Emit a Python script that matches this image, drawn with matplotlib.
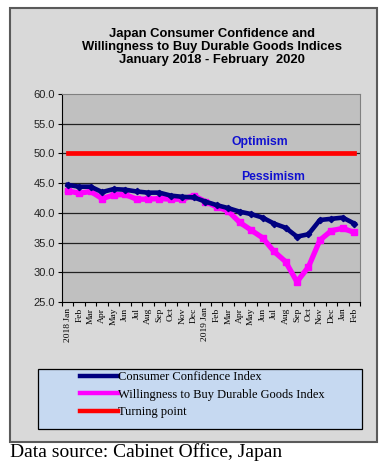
import matplotlib.pyplot as plt
from matplotlib.patches import Rectangle

# Monthly index values, Jan 2018 - Feb 2020
months = ["2018 Jan", "Feb", "Mar", "Apr", "May", "Jun", "Jul", "Aug", "Sep", "Oct", "Nov", "Dec",
          "2019 Jan", "Feb", "Mar", "Apr", "May", "Jun", "Jul", "Aug", "Sep", "Oct", "Nov", "Dec",
          "Jan", "Feb"]
consumer_confidence = [44.7, 44.4, 44.4, 43.5, 44.0, 43.9, 43.6, 43.4, 43.4, 42.9, 42.7, 42.6,
                       41.9, 41.3, 40.8, 40.2, 39.8, 39.2, 38.2, 37.5, 36.0, 36.4, 38.8, 39.0,
                       39.2, 38.2]
durable_goods = [43.7, 43.3, 43.6, 42.4, 43.0, 43.1, 42.3, 42.3, 42.4, 42.3, 42.3, 42.9,
                 41.9, 41.0, 40.3, 38.4, 37.1, 35.8, 33.5, 31.8, 28.4, 30.9, 35.4, 37.0,
                 37.4, 36.7]
turning_point = [50.0] * len(months)
y_ticks = [25, 30, 35, 40, 45, 50, 55, 60]

W, H = 389, 470
fig = plt.figure(figsize=(W / 100, H / 100), dpi=100)
fig.patch.set_facecolor("white")

# gray outer panel
fig.patches.append(Rectangle((10 / W, 1 - 442 / H), 367 / W, 434 / H, transform=fig.transFigure,
                             facecolor="#d9d9d9", edgecolor="#5a5a5a", lw=1.5, zorder=-2))

fig.text(212 / W, 1 - 47 / H,
         "Japan Consumer Confidence and\nWillingness to Buy Durable Goods Indices\nJanuary 2018 - February  2020",
         ha="center", va="center", fontsize=9.4, fontweight="bold", family="Liberation Sans",
         linespacing=1.12)

ax = fig.add_axes([62 / W, 1 - 302 / H, 298 / W, 208 / H])
ax.set_facecolor("#c0c0c0")
x = list(range(len(months)))

ax.plot(x, turning_point, color="#ff0000", lw=3.4, solid_capstyle="projecting", zorder=3,
        label="Turning point")
ax.plot(x, durable_goods, color="#ff00ff", lw=3.8, marker="s", ms=3.8, zorder=4,
        label="Willingness to Buy Durable Goods Index")
ax.plot(x, consumer_confidence, color="#000080", lw=3.3, marker="D", ms=3.2, zorder=5,
        label="Consumer Confidence Index")

ax.set_xlim(-0.5, len(months) - 0.5)
ax.set_ylim(25, 60)
ax.set_yticks(y_ticks)
ax.set_yticklabels([f"{v:.1f}" for v in y_ticks], family="Liberation Sans", fontsize=8,
                   color="#222222")
for v in y_ticks[1:-1]:
    ax.axhline(v, color="#222222", lw=0.9, zorder=1)
ax.tick_params(axis="y", length=3, width=0.8, pad=2)

ax.set_xticks(x)
ax.set_xticklabels(months, rotation=90, family="Liberation Serif", fontsize=6.8)
ax.set_xticks([i - 0.5 for i in range(len(months) + 1)], minor=True)
ax.tick_params(axis="x", which="major", length=0, pad=4)
ax.tick_params(axis="x", which="minor", length=3, width=0.8)

for side in ["left", "bottom"]:
    ax.spines[side].set_color("black")
for side in ["top", "right"]:
    ax.spines[side].set_color("#808080")

ax.text(16.8, 51.9, "Optimism", color="#1010d0", fontsize=8.8, fontweight="bold",
        family="Liberation Sans", ha="center", va="center")
ax.text(17.9, 46.0, "Pessimism", color="#1010d0", fontsize=8.8, fontweight="bold",
        family="Liberation Sans", ha="center", va="center")

# legend box
fig.patches.append(Rectangle((38 / W, 1 - 429 / H), 324 / W, 60 / H, transform=fig.transFigure,
                             facecolor="#c6d9f1", edgecolor="black", lw=0.9, zorder=-1))
handles, labels = ax.get_legend_handles_labels()
order = [2, 1, 0]
leg = fig.legend([handles[i] for i in order], [labels[i] for i in order],
                 loc="upper left", bbox_to_anchor=(80 / W, 1 - 371 / H), frameon=False,
                 prop={"family": "Liberation Serif", "size": 9}, handlelength=3.0,
                 handletextpad=0.0, labelspacing=0.45, borderaxespad=0, borderpad=0)
for line in leg.get_lines():
    line.set_marker("")
    line.set_linewidth(3.2)

fig.text(10 / W, 1 - 452 / H, "Data source: Cabinet Office, Japan", fontsize=14,
         family="Liberation Serif", ha="left", va="center")

fig.savefig("out.png", dpi=100)
